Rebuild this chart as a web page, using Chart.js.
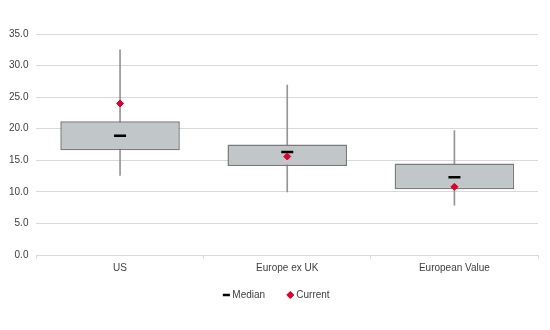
<!DOCTYPE html>
<html>
<head>
<meta charset="utf-8">
<script src="https://cdn.jsdelivr.net/npm/chart.js@4/dist/chart.umd.min.js"></script>
<style>
    html, body { margin: 0; padding: 0; background: #ffffff; }
    #wrap { width: 550px; height: 330px; }
</style>
</head>
<body>
<div id="wrap"><canvas id="valuation-range"></canvas></div>
<script>
// Valuation range per region: whiskers, interquartile box, median and current level
const regions = ['US', 'Europe ex UK', 'European Value'];
const whiskerLow = [12.6, 10.0, 7.9];
const whiskerHigh = [32.5, 26.9, 19.7];
const boxLow = [16.6, 14.1, 10.4];
const boxHigh = [21.2, 17.5, 14.5];
const medians = [18.9, 16.3, 12.3];
const current = [24.0, 15.6, 10.8];

const textColor = '#404040';
const gridColor = '#d9d9d9';

// move the legend row a little to the right, under the middle of the plot
const legendNudge = {
    id: 'legendNudge',
    afterLayout(chart) {
        if (chart.legend) {
            chart.legend.left += 8;
            chart.legend.right += 8;
        }
    }
};

function initializeChart() {
    const canvas = document.getElementById('valuation-range');
    const ctx = canvas.getContext('2d');

    new Chart(ctx, {
        type: 'bar',
        data: {
            labels: regions,
            datasets: [
                {
                    label: 'Range',
                    data: regions.map((r, i) => [whiskerLow[i], whiskerHigh[i]]),
                    backgroundColor: '#959595',
                    borderWidth: 0,
                    barThickness: 1,
                    grouped: false,
                    order: 4
                },
                {
                    label: 'Interquartile',
                    data: regions.map((r, i) => [boxLow[i], boxHigh[i]]),
                    backgroundColor: '#c1c6c8',
                    borderColor: '#7a7a7a',
                    borderWidth: 1.5,
                    borderSkipped: false,
                    barPercentage: 0.715,
                    categoryPercentage: 1,
                    grouped: false,
                    order: 3
                },
                {
                    type: 'line',
                    label: 'Median',
                    data: medians,
                    showLine: false,
                    pointStyle: 'line',
                    pointRadius: 6,
                    pointHoverRadius: 6,
                    borderColor: '#000000',
                    backgroundColor: '#000000',
                    borderWidth: 2.5,
                    order: 2
                },
                {
                    type: 'line',
                    label: 'Current',
                    data: current,
                    showLine: false,
                    pointStyle: 'rectRot',
                    pointRadius: 3.5,
                    pointHoverRadius: 3.5,
                    borderColor: '#e0002b',
                    backgroundColor: '#e0002b',
                    borderWidth: 1,
                    order: 1
                }
            ]
        },
        options: {
            responsive: true,
            maintainAspectRatio: false,
            animation: false,
            layout: {
                padding: { left: 1, right: 12, top: 34, bottom: 20 }
            },
            scales: {
                x: {
                    offset: true,
                    grid: {
                        offset: true,
                        drawOnChartArea: false,
                        drawTicks: true,
                        tickLength: 4,
                        color: gridColor
                    },
                    border: { color: gridColor },
                    ticks: {
                        color: textColor,
                        padding: 3,
                        font: { family: 'Liberation Sans, Arial', size: 10 }
                    }
                },
                y: {
                    min: 0,
                    max: 35,
                    grid: {
                        color: gridColor,
                        drawTicks: false
                    },
                    border: { display: false },
                    ticks: {
                        stepSize: 5,
                        color: textColor,
                        padding: 8,
                        font: { family: 'Liberation Sans, Arial', size: 10 },
                        callback: value => value.toFixed(1)
                    }
                }
            },
            plugins: {
                tooltip: { enabled: false },
                legend: {
                    position: 'bottom',
                    labels: {
                        color: textColor,
                        font: { family: 'Liberation Sans, Arial', size: 10 },
                        usePointStyle: true,
                        boxWidth: 2,
                        boxHeight: 5,
                        padding: 13,
                        // only the median and current markers get a legend entry
                        filter: item => item.datasetIndex >= 2,
                        sort: (a, b) => a.datasetIndex - b.datasetIndex,
                        generateLabels: chart => {
                            // keep a wider gap after the first entry
                            const items = Chart.defaults.plugins.legend.labels.generateLabels(chart);
                            items.forEach(item => {
                                if (item.text === 'Median') item.text = 'Median\u00a0\u00a0\u00a0\u00a0';
                            });
                            return items;
                        }
                    }
                }
            }
        },
        plugins: [legendNudge]
    });
}

initializeChart();
</script>
</body>
</html>
